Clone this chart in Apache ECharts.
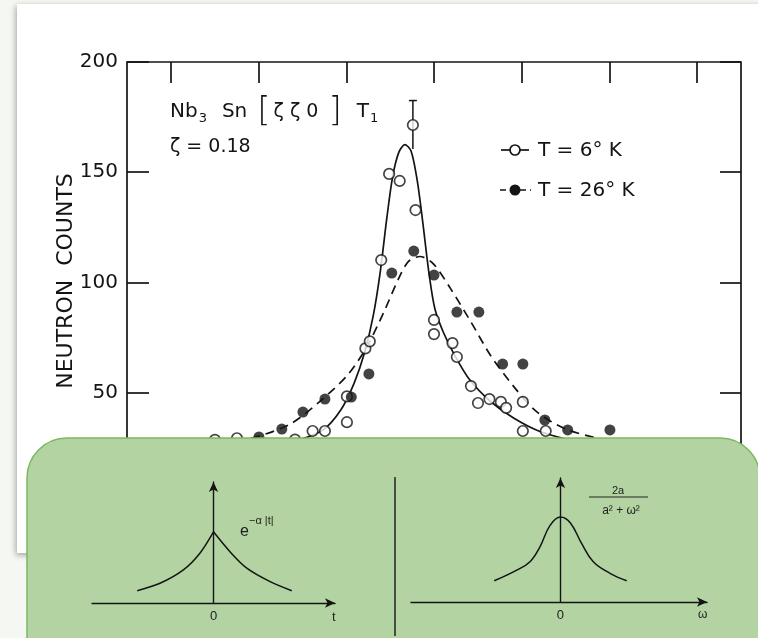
<!DOCTYPE html>
<html>
<head>
<meta charset="utf-8">
<script src="https://cdn.jsdelivr.net/npm/echarts@6/dist/echarts.min.js"></script>
<style>
  html, body { margin: 0; padding: 0; background: #f4f7f2; }
  #chart { width: 758px; height: 638px; }
</style>
</head>
<body>
<div id="chart"></div>
<script>
// Neutron counts vs energy transfer, Nb3Sn [ζζ0] T1, ζ = 0.18
const energyTicks = ['0', '1', '2', '3', '4', '5', '6'];

// T = 6 °K measured points [energy, counts]
const t6Points = [
  [0.52, 28.5], [0.77, 29.2], [1.43, 28.6], [1.63, 32.5], [1.77, 32.5],
  [2.02, 36.5], [2.02, 48.2], [2.23, 70.0], [2.28, 73.2], [2.41, 110.1],
  [2.50, 149.2], [2.62, 146.0], [2.77, 171.4], [2.80, 132.8], [3.01, 82.9],
  [3.01, 76.5], [3.22, 72.4], [3.27, 66.1], [3.43, 52.9], [3.51, 45.2],
  [3.64, 47.0], [3.77, 45.7], [3.83, 43.0], [4.02, 45.7], [4.02, 32.5],
  [4.28, 32.5]
];

// T = 26 °K measured points [energy, counts]
const t26Points = [
  [1.02, 29.8], [1.28, 33.4], [1.52, 41.1], [1.77, 47.0], [2.07, 47.9],
  [2.27, 58.4], [2.53, 104.2], [2.78, 114.2], [3.01, 103.3], [3.27, 86.5],
  [3.52, 86.5], [3.79, 62.9], [4.02, 62.9], [4.27, 37.5], [4.53, 33.0],
  [5.01, 33.0]
];

// Statistical error on the peak point [energy, low, high]
const errorBars = [[2.77, 160.5, 182.5]];

// Fitted line shapes
const t6Fit = [
  [0.9, 24.0], [1.45, 28.3], [1.75, 33.0], [1.95, 42.0], [2.10, 54.0],
  [2.22, 68.0], [2.32, 85.0], [2.40, 105.0], [2.47, 128.0], [2.54, 148.0],
  [2.61, 159.0], [2.68, 162.5], [2.75, 159.5], [2.82, 146.0], [2.88, 128.0],
  [2.95, 105.0], [3.02, 88.0], [3.12, 77.0], [3.25, 66.5], [3.42, 55.5],
  [3.65, 46.0], [3.91, 38.5], [4.20, 32.5], [4.50, 29.0], [4.90, 26.0]
];
const t26Fit = [
  [0.6, 26.0], [1.02, 30.2], [1.37, 35.5], [1.70, 45.5], [2.03, 58.0],
  [2.25, 71.0], [2.44, 86.5], [2.60, 101.0], [2.72, 109.5], [2.85, 111.7],
  [3.00, 108.5], [3.20, 97.0], [3.43, 82.0], [3.65, 67.0], [3.90, 53.5],
  [4.17, 41.5], [4.50, 33.5], [4.89, 29.0], [5.30, 25.0]
];

// Inset sketches: e^{-α|t|} and its transform 2a/(a²+ω²)
const expLeft = [[-3.14, 0.173], [-2.20, 0.277], [-1.24, 0.465], [-0.56, 0.70], [0, 1.0]];
const expRight = [[0, 1.0], [0.68, 0.72], [1.37, 0.49], [2.33, 0.30], [3.22, 0.173]];
const lorentz = [
  [-2.26, 0.25], [-1.49, 0.376], [-1.04, 0.474], [-0.70, 0.65], [-0.36, 0.90],
  [0, 1.0], [0.34, 0.93], [0.72, 0.69], [1.12, 0.474], [1.69, 0.338], [2.26, 0.25]
];

const INK = '#141414';
const chart = echarts.init(document.getElementById('chart'), null, { renderer: 'canvas' });

const insetAxisLine = {
  show: true,
  onZero: true,
  symbol: ['none', 'arrow'],
  symbolSize: [7, 10],
  lineStyle: { color: INK, width: 1.4 }
};

chart.setOption({
  animation: false,
  backgroundColor: '#f4f7f2',
  grid: [
    { left: 127, top: 62, width: 614, height: 440.6, show: true,
      borderColor: INK, borderWidth: 1.7, backgroundColor: 'transparent' },
    { left: 92, top: 482, width: 243, height: 121 },
    { left: 411, top: 478, width: 296, height: 124 }
  ],
  xAxis: [
    { gridIndex: 0, type: 'value', position: 'bottom', min: -0.48, max: 6.5,
      axisLine: { show: false, onZero: false }, splitLine: { show: false },
      axisLabel: { show: false }, axisTick: { show: false } },
    { gridIndex: 1, type: 'value', min: -5, max: 5, z: 20,
      axisLine: insetAxisLine, axisTick: { show: false }, splitLine: { show: false },
      axisLabel: { customValues: [0], fontSize: 13, color: '#222', margin: 7,
        fontFamily: 'Liberation Sans' },
      name: 't', nameLocation: 'end', nameGap: -3,
      nameTextStyle: { fontSize: 13, color: '#222', fontFamily: 'Liberation Sans',
        verticalAlign: 'top', padding: [8, 0, 0, 0] } },
    { gridIndex: 2, type: 'value', min: -5.1, max: 5, z: 20,
      axisLine: insetAxisLine, axisTick: { show: false }, splitLine: { show: false },
      axisLabel: { customValues: [0], fontSize: 13, color: '#222', margin: 7,
        fontFamily: 'Liberation Sans' },
      name: 'ω', nameLocation: 'end', nameGap: -9,
      nameTextStyle: { fontSize: 12, color: '#222', fontFamily: 'Liberation Sans',
        verticalAlign: 'top', padding: [7, 0, 0, 0] } },
    // energy ticks along the top edge of the frame
    { gridIndex: 0, type: 'category', position: 'top', data: energyTicks, boundaryGap: true,
      axisLine: { show: false, onZero: false }, splitLine: { show: false },
      axisLabel: { show: false },
      axisTick: { show: true, inside: true, length: 21, alignWithLabel: true,
        lineStyle: { color: INK, width: 1.7 } } }
  ],
  yAxis: [
    { gridIndex: 0, type: 'value', position: 'left', min: 0, max: 200, interval: 50,
      axisLine: { show: false, onZero: false }, splitLine: { show: false },
      axisTick: { show: true, inside: true, length: 22, lineStyle: { color: INK, width: 1.7 } },
      axisLabel: { fontSize: 20, color: '#141414', margin: 9, fontFamily: 'DejaVu Sans' } },
    { gridIndex: 0, type: 'value', position: 'right', min: 0, max: 200, interval: 50,
      axisLine: { show: false, onZero: false }, splitLine: { show: false },
      axisTick: { show: true, inside: true, length: 21, lineStyle: { color: INK, width: 1.7 } },
      axisLabel: { show: false } },
    { gridIndex: 1, type: 'value', min: 0, max: 1.7, z: 20,
      axisLine: insetAxisLine, axisTick: { show: false }, splitLine: { show: false },
      axisLabel: { show: false } },
    { gridIndex: 2, type: 'value', min: 0, max: 1.46, z: 20,
      axisLine: insetAxisLine, axisTick: { show: false }, splitLine: { show: false },
      axisLabel: { show: false } }
  ],
  series: [
    { name: 'T=6°K fit', type: 'line', xAxisIndex: 0, yAxisIndex: 0, data: t6Fit,
      smooth: 0.3, showSymbol: false, z: 2,
      lineStyle: { color: INK, width: 1.7 } },
    { name: 'T=26°K fit', type: 'line', xAxisIndex: 0, yAxisIndex: 0, data: t26Fit,
      smooth: 0.3, showSymbol: false, z: 2,
      lineStyle: { color: INK, width: 1.7, type: [9, 6] } },
    { name: 'error', type: 'custom', xAxisIndex: 0, yAxisIndex: 0, data: errorBars, z: 3,
      encode: { x: 0, y: [1, 2] },
      renderItem: function (params, api) {
        const x = api.value(0);
        const lo = api.coord([x, api.value(1)]);
        const hi = api.coord([x, api.value(2)]);
        const st = { stroke: INK, lineWidth: 1.5 };
        return { type: 'group', children: [
          { type: 'line', shape: { x1: lo[0], y1: lo[1], x2: hi[0], y2: hi[1] }, style: st },
          { type: 'line', shape: { x1: hi[0] - 4, y1: hi[1], x2: hi[0] + 4, y2: hi[1] }, style: st }
        ] };
      } },
    { name: 'T=6°K', type: 'scatter', xAxisIndex: 0, yAxisIndex: 0, data: t6Points, z: 4,
      symbol: 'circle', symbolSize: 10.5,
      itemStyle: { color: '#ffffff', borderColor: INK, borderWidth: 1.7 } },
    { name: 'T=26°K', type: 'scatter', xAxisIndex: 0, yAxisIndex: 0, data: t26Points, z: 4,
      symbol: 'circle', symbolSize: 11,
      itemStyle: { color: INK } },
    { name: 'exp left', type: 'line', xAxisIndex: 1, yAxisIndex: 2, data: expLeft, z: 20,
      smooth: 0.3, showSymbol: false, lineStyle: { color: INK, width: 1.5 } },
    { name: 'exp right', type: 'line', xAxisIndex: 1, yAxisIndex: 2, data: expRight, z: 20,
      smooth: 0.3, showSymbol: false, lineStyle: { color: INK, width: 1.5 } },
    { name: 'lorentzian', type: 'line', xAxisIndex: 2, yAxisIndex: 3, data: lorentz, z: 20,
      smooth: 0.4, showSymbol: false, lineStyle: { color: INK, width: 1.5 } }
  ],
  graphic: [
    // paper sheet behind the plot
    { type: 'rect', z: -5, shape: { x: 17, y: 4, width: 760, height: 549 },
      style: { fill: '#ffffff', shadowBlur: 6, shadowColor: 'rgba(0,0,0,0.35)',
        shadowOffsetX: -1, shadowOffsetY: 2 } },
    { type: 'text', z: 5, x: 66, y: 281, rotation: Math.PI / 2,
      style: { text: 'NEUTRON  COUNTS', fontSize: 22, fontFamily: 'DejaVu Sans',
        fill: '#141414', textAlign: 'center', textVerticalAlign: 'middle' } },
    { type: 'text', z: 5, x: 170, y: 112,
      style: {
        text: '{n|Nb}{s|3}{m|Sn}{b|[}{z|ζ ζ 0}{b|]}{t|T}{s|1}',
        textVerticalAlign: 'middle', fill: '#141414',
        rich: {
          n: { fontSize: 20, fontFamily: 'DejaVu Sans' },
          s: { fontSize: 13, fontFamily: 'DejaVu Sans', padding: [14, 0, 0, 1] },
          m: { fontSize: 20, fontFamily: 'DejaVu Sans', padding: [0, 0, 0, 15] },
          b: { fontSize: 34, fontFamily: 'DejaVu Sans', fontWeight: 'lighter', padding: [0, 3, 0, 10] },
          z: { fontSize: 19, fontFamily: 'DejaVu Sans' },
          t: { fontSize: 20, fontFamily: 'DejaVu Sans', padding: [0, 0, 0, 12] }
        }
      } },
    { type: 'text', z: 5, x: 170, y: 147,
      style: { text: 'ζ = 0.18', fontSize: 19, fontFamily: 'DejaVu Sans', fill: '#141414',
        textVerticalAlign: 'middle' } },
    // legend
    { type: 'line', z: 5, shape: { x1: 501, y1: 150, x2: 529, y2: 150 },
      style: { stroke: INK, lineWidth: 1.7 } },
    { type: 'circle', z: 6, shape: { cx: 515, cy: 150, r: 5 },
      style: { fill: '#fff', stroke: INK, lineWidth: 1.7 } },
    { type: 'text', z: 5, x: 538, y: 151,
      style: { text: 'T = 6° K', fontSize: 20, fontFamily: 'DejaVu Sans', fill: '#141414',
        textVerticalAlign: 'middle' } },
    { type: 'line', z: 5, shape: { x1: 500, y1: 190, x2: 531, y2: 190 },
      style: { stroke: INK, lineWidth: 1.7, lineDash: [6, 4] } },
    { type: 'circle', z: 6, shape: { cx: 515, cy: 190, r: 5.5 },
      style: { fill: INK } },
    { type: 'text', z: 5, x: 538, y: 191,
      style: { text: 'T = 26° K', fontSize: 20, fontFamily: 'DejaVu Sans', fill: '#141414',
        textVerticalAlign: 'middle' } },
    // green panel with the two sketches
    { type: 'rect', z: 10, shape: { x: 27, y: 438, width: 733, height: 260, r: 40 },
      style: { fill: '#b3d4a2', stroke: '#7db860', lineWidth: 1.5 } },
    { type: 'line', z: 15, shape: { x1: 395, y1: 477, x2: 395, y2: 636 },
      style: { stroke: '#222', lineWidth: 1.5 } },
    { type: 'text', z: 15, x: 240, y: 532,
      style: { text: 'e', fontSize: 16, fontFamily: 'Liberation Sans', fill: '#1e1e1e',
        textVerticalAlign: 'middle' } },
    { type: 'text', z: 15, x: 249, y: 521,
      style: { text: '−α |t|', fontSize: 11, fontFamily: 'Liberation Sans', fill: '#1e1e1e',
        textVerticalAlign: 'middle' } },
    { type: 'text', z: 15, x: 618, y: 491,
      style: { text: '2a', fontSize: 11, fontFamily: 'Liberation Sans', fill: '#1e1e1e',
        textAlign: 'center', textVerticalAlign: 'middle' } },
    { type: 'line', z: 15, shape: { x1: 589, y1: 497, x2: 648, y2: 497 },
      style: { stroke: '#222', lineWidth: 1.2 } },
    { type: 'text', z: 15, x: 621, y: 511,
      style: { text: 'a² + ω²', fontSize: 12, fontFamily: 'Liberation Sans', fill: '#1e1e1e',
        textAlign: 'center', textVerticalAlign: 'middle' } }
  ]
});
</script>
</body>
</html>
